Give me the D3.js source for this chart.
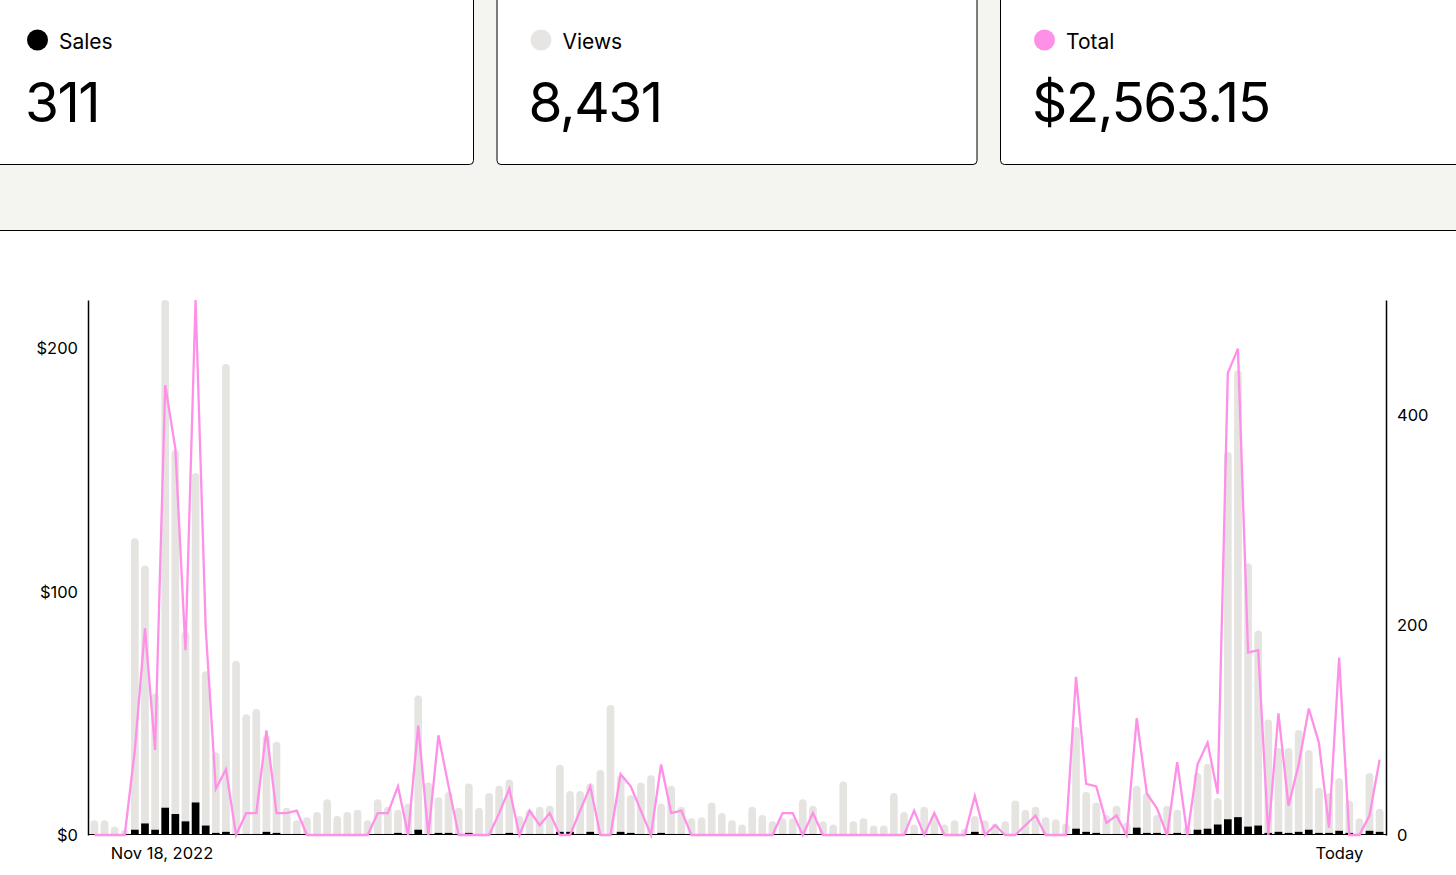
<!DOCTYPE html>
<html>
<head>
<meta charset="utf-8">
<script src="https://cdn.jsdelivr.net/npm/d3@7"></script>
<style>
  html, body { margin: 0; padding: 0; background: #fff; }
  svg { display: block; font-family: Inter, "Noto Sans", sans-serif; }
</style>
</head>
<body>
<svg id="chart" width="1456" height="875"></svg>
<script>
// ---- data ----
const startDate = "2022-11-16";
const views = [14,14,8,5,283,257,135,510,367,194,
  345,156,79,449,166,115,120,95,89,26,
  14,17,22,34,18,22,24,14,34,27,
  24,30,133,50,36,41,26,49,26,40,
  47,53,18,24,27,28,67,42,42,49,
  62,124,57,38,50,57,30,47,27,16,
  17,31,21,14,10,27,19,13,16,16,
  34,28,13,10,51,13,16,9,9,40,
  22,10,27,19,10,14,6,18,14,11,
  13,33,24,27,17,15,11,103,41,31,
  19,28,12,47,40,19,28,24,8,59,
  68,35,365,443,259,195,110,83,83,100,
  81,45,40,54,33,16,59,25];
const sales = [0,0,0,0,5,11,5,26,20,13,
  31,9,2,3,0,1,1,3,2,1,
  1,0,0,0,0,0,0,0,1,1,
  2,0,5,0,2,2,1,2,0,0,
  1,2,0,1,1,1,3,3,1,3,
  0,0,3,2,1,0,2,1,1,0,
  0,0,0,0,0,0,0,0,1,1,
  0,1,0,0,0,0,0,0,0,0,
  0,1,0,1,0,0,0,3,0,1,
  0,0,1,1,0,0,0,6,3,2,
  1,1,0,7,2,2,1,2,0,5,
  6,10,15,17,8,9,2,3,2,3,
  5,2,2,4,2,0,4,3];
const totals = [0,0,0,0,35,85,35,185,159,76,
  220,85,19,27,0,9,9,43,9,9,
  10,0,0,0,0,0,0,0,9,9,
  20,0,45,0,41,20,0,0,0,0,
  9,19,0,10,4,9,0,0,10,20,
  0,0,25,20,10,0,29,9,10,0,
  0,0,0,0,0,0,0,0,9,9,
  0,9,0,0,0,0,0,0,0,0,
  0,10,0,9,0,0,0,16,0,4,
  0,0,4,8,0,0,0,65,21,20,
  5,8,0,48,17,11,0,30,0,29,
  38,17,190,200,75,76,0,50,12,29,
  52,38,3,73,0,0,8,31];
const legendNames = ["Sales", "Views", "Total"];
const legendValues = ["311", "8,431", "$2,563.15"];
const xTickLabels = ["Nov 18, 2022", "Today"];
const xTickIndex = [2, 125];

// ---- build ----
(function () {
const dates = d3.range(views.length).map(i => d3.timeDay.offset(new Date(startDate + "T00:00:00"), i));
const rows = dates.map((d, i) => ({date: d, views: views[i], sales: sales[i], total: totals[i]}));

const svg = d3.select("#chart");
const W = 1456;
const colors = {sales: "#000000", views: "#e5e4e1", total: "#ff90e8"};
const legendColors = [colors.sales, "#e6e5e3", colors.total];

// top panel
svg.append("rect").attr("x", 0).attr("y", 0).attr("width", W).attr("height", 230).attr("fill", "#f4f4f0");
svg.append("line").attr("x1", 0).attr("x2", W).attr("y1", 230.5).attr("y2", 230.5).attr("stroke", "#000").attr("stroke-width", 1);

const cardX = d3.scalePoint().domain(legendNames).range([-7, 1000]);
legendNames.forEach((name, i) => {
  const cx = cardX(name);
  const g = svg.append("g").attr("transform", `translate(${cx},0)`);
  g.append("rect").attr("x", 0.5).attr("y", -40).attr("width", 480).attr("height", 204.5)
    .attr("rx", 4).attr("fill", "#fff").attr("stroke", "#000").attr("stroke-width", 1);
  g.append("circle").attr("cx", 44.5).attr("cy", 40).attr("r", 10.5).attr("fill", legendColors[i]);
  g.append("text").attr("x", 66).attr("y", 48.5).attr("font-size", 21).attr("fill", "#000").text(name);
  g.append("text").attr("x", 32).attr("y", 122).attr("font-size", 55).attr("fill", "#000")
    .attr("letter-spacing", -1.5).text(legendValues[i]);
});

// chart
const mLeft = 88, mRight = 1386, mTop = 300, mBottom = 835;
const x = d3.scaleBand().domain(dates).range([mLeft, mRight]).paddingInner(0.24).paddingOuter(0.25);
const bw = x.bandwidth();
const yL = d3.scaleLinear().domain([0, d3.max(totals)]).range([mBottom, mTop]);
const yR = d3.scaleLinear().domain([0, d3.max(views)]).range([mBottom, mTop]);

function roundTop(x0, y0, w, h) {
  if (h <= 0) return "";
  const r = Math.min(w / 2, h);
  return `M${x0},${y0 + h}V${y0 + r}A${r},${r} 0 0 1 ${x0 + r},${y0}` +
    `H${x0 + w - r}A${r},${r} 0 0 1 ${x0 + w},${y0 + r}V${y0 + h}Z`;
}

svg.append("g").selectAll("path").data(rows).join("path")
  .attr("d", d => roundTop(x(d.date), yR(d.views), bw, yR(0) - yR(d.views)))
  .attr("fill", colors.views);

svg.append("g").selectAll("rect").data(rows.filter(d => d.sales > 0)).join("rect")
  .attr("x", d => x(d.date)).attr("width", bw)
  .attr("y", d => yR(d.sales)).attr("height", d => yR(0) - yR(d.sales))
  .attr("fill", colors.sales);

// baseline
svg.append("line").attr("x1", mLeft).attr("x2", mRight).attr("y1", mBottom - 0.5).attr("y2", mBottom - 0.5)
  .attr("stroke", "#000").attr("stroke-width", 1);

const line = d3.line().x(d => x(d.date) + bw / 2).y(d => yL(d.total));
svg.append("path").datum(rows).attr("d", line).attr("fill", "none")
  .attr("stroke", colors.total).attr("stroke-width", 2.3);

// axes
const axL = svg.append("g").attr("transform", `translate(${mLeft},0)`)
  .call(d3.axisLeft(yL).ticks(3).tickFormat(d => "$" + d).tickSize(0).tickSizeOuter(0).tickPadding(10));
const axR = svg.append("g").attr("transform", `translate(${mRight},0)`)
  .call(d3.axisRight(yR).ticks(3).tickSize(0).tickSizeOuter(0).tickPadding(11));
[axL, axR].forEach(a => {
  a.select(".domain").attr("stroke", "#000").attr("stroke-width", 1.5);
  a.selectAll("text").attr("font-size", 16.5).attr("fill", "#000").attr("font-family", "Inter, sans-serif");
});

// x labels
xTickLabels.forEach((lab, k) => {
  const d = dates[xTickIndex[k]];
  const isFirst = k === 0;
  svg.append("text")
    .attr("x", isFirst ? x(d) : x(d) + bw)
    .attr("y", 859)
    .attr("text-anchor", isFirst ? "start" : "end")
    .attr("font-size", 16.5).attr("fill", "#000")
    .text(lab);
});
})();
</script>
</body>
</html>
